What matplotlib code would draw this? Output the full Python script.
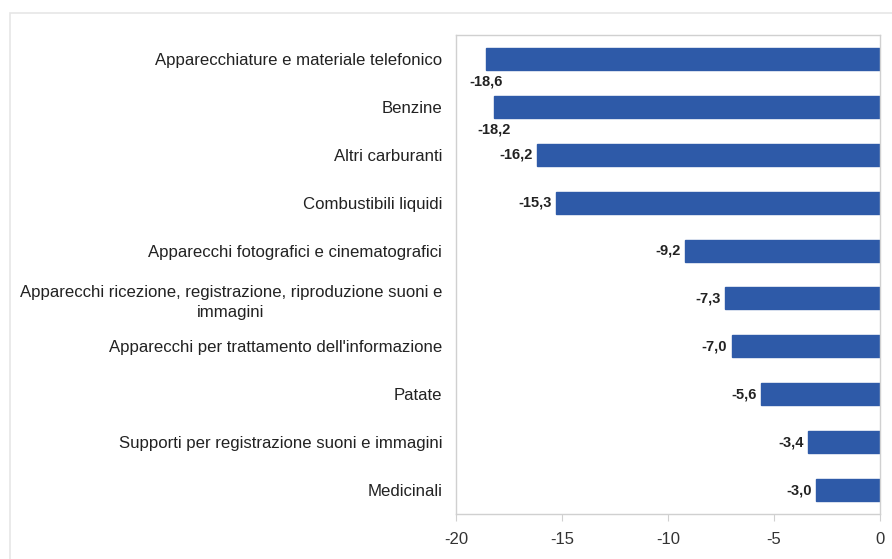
import matplotlib
matplotlib.use('Agg')
import matplotlib.pyplot as plt
from matplotlib.patches import Rectangle

categories = [
    'Apparecchiature e materiale telefonico',
    'Benzine',
    'Altri carburanti',
    'Combustibili liquidi',
    'Apparecchi fotografici e cinematografici',
    'Apparecchi ricezione, registrazione, riproduzione suoni e\nimmagini',
    "Apparecchi per trattamento dell'informazione",
    'Patate',
    'Supporti per registrazione suoni e immagini',
    'Medicinali',
]
values = [-18.6, -18.2, -16.2, -15.3, -9.2, -7.3, -7.0, -5.6, -3.4, -3.0]
xticks = [-20, -15, -10, -5, 0]

plt.rcParams['font.family'] = ['Liberation Sans', 'DejaVu Sans']

fig = plt.figure(figsize=(8.92, 5.59), dpi=100)
ax = fig.add_axes([456 / 892, 1 - 514 / 559, (880 - 456) / 892, (514 - 35) / 559])

# light frame around the figure
fig.patches.append(Rectangle((10 / 892, -0.1), 1.2, 1 - 13 / 559 + 0.1,
                             transform=fig.transFigure, fill=False,
                             edgecolor='#e6e6e6', linewidth=1.2))

y = list(range(len(categories)))
ax.barh(y, values, height=0.46, color='#2E5AA8', edgecolor='#2E5AA8')

for yi, v in zip(y, values):
    txt = f'{v:.1f}'.replace('.', ',')
    if v < -17:
        ax.text(v, yi + 0.47, txt, ha='center', va='center', fontsize=10.5,
                fontweight='bold', color='#222222')
    else:
        ax.text(v - 0.2, yi, txt, ha='right', va='center', fontsize=10.5,
                fontweight='bold', color='#222222')

ax.set_xlim(-20, 0)
ax.set_ylim(len(categories) - 0.5, -0.5)
ax.set_xticks(xticks)
ax.set_xticklabels([str(t) for t in xticks], fontsize=12, color='#333333')
ax.set_yticks(y)
ax.set_yticklabels(categories, fontsize=12.1, color='#222222')
for lab in ax.get_yticklabels():
    lab.set_multialignment('center')
    lab.set_linespacing(1.45)
ax.tick_params(axis='y', length=0, pad=10)
ax.tick_params(axis='x', length=5, color='#d0d0d0', pad=8)
for s in ax.spines.values():
    s.set_color('#d0d0d0')
    s.set_linewidth(1.0)

fig.savefig('out.png', dpi=100)
